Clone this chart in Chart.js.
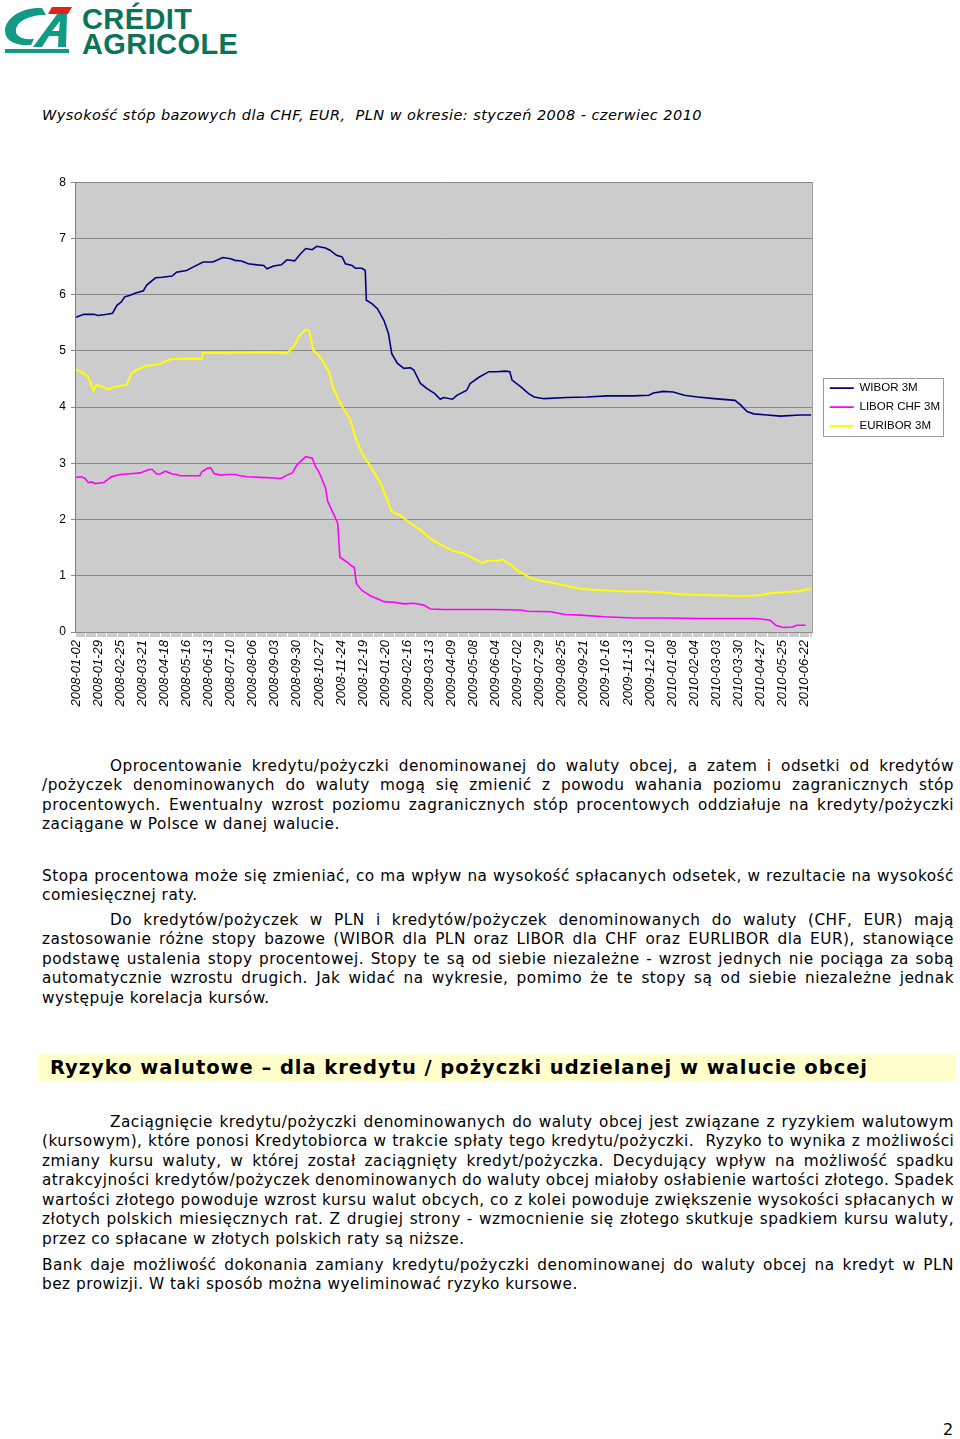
<!DOCTYPE html>
<html lang="pl">
<head>
<meta charset="utf-8">
<title>Wysokość stóp bazowych dla CHF, EUR, PLN</title>
<script src="https://cdn.jsdelivr.net/npm/chart.js@4.4.0/dist/chart.umd.min.js"></script>
<style>
  html, body { margin: 0; padding: 0; background: #fff; }
  body { width: 960px; height: 1439px; position: relative; overflow: hidden;
         font-family: "DejaVu Sans", Verdana, sans-serif; color: #000; }
  .abs { position: absolute; }
  .logo-txt { left: 82px; font-family: "Liberation Sans", Arial, sans-serif; font-weight: bold;
              color: #0b7456; font-size: 29px; line-height: 29px; letter-spacing: 0.4px; white-space: nowrap; }
  .title { left: 42px; top: 106px; font-style: italic; font-size: 14.5px; line-height: 19.5px; white-space: nowrap; }
  .para { left: 42px; width: 912px; font-size: 15.3px; line-height: 19.5px; letter-spacing: 0.5px; }
  .para div { white-space: nowrap; height: 19.5px; }
  .para span { white-space: nowrap; }
  .ind { padding-left: 68px; }
  #chartBox { position: absolute; left: 40px; top: 170px; width: 920px; height: 545px; }
  .head { left: 38px; top: 1054px; width: 918px; height: 28px; background: #ffffcc; }
  .head span { position: absolute; left: 12px; top: 0; font-weight: bold; font-size: 19.5px; line-height: 28px; white-space: nowrap; }
  .pagenr { left: 943px; top: 1420px; font-size: 16px; line-height: 20px; }
</style>
</head>
<body>

<svg class="abs" style="left:0;top:0" width="78" height="58" viewBox="0 0 78 58">
  <path d="M42 8 C22 7 5 18 5 31 C5 41 16 46 31 45 L34 39 C22 40 15 36 16 30 C17 21 29 15 46 15 Z" fill="#119a86"/>
  <path d="M33 47 L58 13 L67 13 L66 47 L58 47 L58.5 36 L49 36 L42 47 Z M52 31 L59 31 L60 21 Z" fill="#119a86" fill-rule="evenodd"/>
  <path d="M52 7 L72 7 L68 14 L48 14 Z" fill="#e2231a"/>
  <rect x="5" y="49" width="64" height="4" fill="#119a86"/>
</svg>
<div class="abs logo-txt" style="top:4.5px">CRÉDIT</div>
<div class="abs logo-txt" style="top:29.5px">AGRICOLE</div>

<div class="abs title"><span id="title">Wysokość stóp bazowych dla CHF, EUR,&nbsp; PLN w okresie: styczeń 2008 - czerwiec 2010</span></div>

<div id="chartBox"><canvas id="rates"></canvas></div>

<div class="abs para" style="top:756.5px">
  <div class="ind j"><span>Oprocentowanie kredytu/pożyczki denominowanej do waluty obcej, a zatem i odsetki od kredytów</span></div>
  <div class="j"><span>/pożyczek denominowanych do waluty mogą się zmienić z powodu wahania poziomu zagranicznych stóp</span></div>
  <div class="j"><span>procentowych. Ewentualny wzrost poziomu zagranicznych stóp procentowych oddziałuje na kredyty/pożyczki</span></div>
  <div><span>zaciągane w Polsce w danej walucie.</span></div>
</div>

<div class="abs para" style="top:866.5px">
  <div class="j"><span>Stopa procentowa może się zmieniać, co ma wpływ na wysokość spłacanych odsetek, w rezultacie na wysokość</span></div>
  <div><span>comiesięcznej raty.</span></div>
</div>

<div class="abs para" style="top:910.5px">
  <div class="ind j"><span>Do kredytów/pożyczek w PLN i kredytów/pożyczek denominowanych do waluty (CHF, EUR) mają</span></div>
  <div class="j"><span>zastosowanie różne stopy bazowe (WIBOR dla PLN oraz LIBOR dla CHF oraz EURLIBOR dla EUR), stanowiące</span></div>
  <div class="j"><span>podstawę ustalenia stopy procentowej. Stopy te są od siebie niezależne - wzrost jednych nie pociąga za sobą</span></div>
  <div class="j"><span>automatycznie wzrostu drugich. Jak widać na wykresie, pomimo że te stopy są od siebie niezależne jednak</span></div>
  <div><span>występuje korelacja kursów.</span></div>
</div>

<div class="abs head"><span id="heading">Ryzyko walutowe – dla kredytu / pożyczki udzielanej w walucie obcej</span></div>

<div class="abs para" style="top:1112.5px">
  <div class="ind j"><span>Zaciągnięcie kredytu/pożyczki denominowanych do waluty obcej jest związane z ryzykiem walutowym</span></div>
  <div class="j"><span>(kursowym), które ponosi Kredytobiorca w trakcie spłaty tego kredytu/pożyczki.&nbsp; Ryzyko to wynika z możliwości</span></div>
  <div class="j"><span>zmiany kursu waluty, w której został zaciągnięty kredyt/pożyczka. Decydujący wpływ na możliwość spadku</span></div>
  <div class="j"><span>atrakcyjności kredytów/pożyczek denominowanych do waluty obcej miałoby osłabienie wartości złotego. Spadek</span></div>
  <div class="j"><span>wartości złotego powoduje wzrost kursu walut obcych, co z kolei powoduje zwiększenie wysokości spłacanych w</span></div>
  <div class="j"><span>złotych polskich miesięcznych rat. Z drugiej strony - wzmocnienie się złotego skutkuje spadkiem kursu waluty,</span></div>
  <div><span>przez co spłacane w złotych polskich raty są niższe.</span></div>
</div>

<div class="abs para" style="top:1255.5px">
  <div class="j"><span>Bank daje możliwość dokonania zamiany kredytu/pożyczki denominowanej do waluty obcej na kredyt w PLN</span></div>
  <div><span>bez prowizji. W taki sposób można wyeliminować ryzyko kursowe.</span></div>
</div>

<div class="abs pagenr">2</div>

<script>
// tick labels, one every 20 trading days
const dateLabels = ['2008-01-02', '2008-01-29', '2008-02-25', '2008-03-21', '2008-04-18', '2008-05-16',
  '2008-06-13', '2008-07-10', '2008-08-06', '2008-09-03', '2008-09-30', '2008-10-27', '2008-11-24',
  '2008-12-19', '2009-01-20', '2009-02-16', '2009-03-13', '2009-04-09', '2009-05-08', '2009-06-04',
  '2009-07-02', '2009-07-29', '2009-08-25', '2009-09-21', '2009-10-16', '2009-11-13', '2009-12-10',
  '2010-01-08', '2010-02-04', '2010-03-03', '2010-03-30', '2010-04-27', '2010-05-25', '2010-06-22'];
const labelStep = 20;
const seriesNames = ['WIBOR 3M', 'LIBOR CHF 3M', 'EURIBOR 3M'];

// [trading day index, rate %]
const wibor = [[0,5.60],[7,5.65],[16,5.65],[20,5.63],[28,5.65],[33,5.67],[37,5.81],[41,5.87],[44,5.96],[49,5.99],
  [54,6.03],[61,6.07],[64,6.17],[72,6.30],[78,6.31],[87,6.33],[91,6.40],[100,6.43],[106,6.49],[115,6.58],
  [124,6.58],[133,6.66],[140,6.64],[144,6.61],[150,6.60],[156,6.55],[164,6.53],[170,6.52],[173,6.46],[179,6.51],
  [186,6.53],[191,6.62],[198,6.60],[203,6.72],[208,6.82],[214,6.80],[218,6.86],[226,6.83],[230,6.79],[236,6.70],
  [241,6.67],[244,6.55],[250,6.52],[253,6.47],[259,6.47],[262,6.43],[263,5.90],[268,5.84],[273,5.75],[279,5.54],
  [283,5.31],[286,4.95],[291,4.78],[297,4.69],[303,4.70],[306,4.66],[312,4.42],[318,4.33],[325,4.24],[330,4.14],
  [333,4.17],[341,4.14],[345,4.21],[354,4.30],[357,4.42],[365,4.53],[374,4.63],[381,4.63],[389,4.64],[393,4.63],
  [395,4.48],[403,4.36],[410,4.24],[415,4.18],[424,4.15],[445,4.17],[463,4.18],[481,4.20],[505,4.20],[519,4.21],
  [523,4.25],[532,4.28],[541,4.27],[551,4.21],[563,4.18],[578,4.15],[597,4.12],[602,4.04],[608,3.92],[614,3.88],
  [626,3.86],[638,3.84],[656,3.86],[666,3.86]];

const liborChf = [[0,2.75],[5,2.76],[8,2.73],[11,2.66],[14,2.67],[17,2.64],[25,2.66],[28,2.70],[32,2.76],[40,2.80],
  [46,2.81],[52,2.82],[58,2.83],[66,2.89],[69,2.89],[73,2.81],[76,2.81],[81,2.86],[87,2.81],[91,2.80],
  [94,2.78],[102,2.78],[112,2.78],[114,2.85],[119,2.91],[122,2.92],[125,2.82],[131,2.79],[137,2.80],[144,2.80],
  [149,2.78],[155,2.76],[167,2.75],[179,2.74],[186,2.73],[191,2.79],[196,2.83],[200,2.97],[208,3.12],[214,3.09],
  [217,2.94],[220,2.85],[226,2.56],[228,2.32],[233,2.11],[237,1.94],[239,1.33],[245,1.25],[250,1.17],[252,1.15],
  [254,0.86],[259,0.74],[267,0.64],[273,0.59],[279,0.54],[288,0.53],[297,0.50],[306,0.51],[315,0.48],[321,0.41],
  [333,0.40],[354,0.40],[378,0.40],[403,0.39],[409,0.37],[430,0.36],[443,0.31],[457,0.30],[472,0.28],[478,0.27],
  [505,0.25],[535,0.25],[566,0.24],[596,0.24],[617,0.24],[629,0.21],[634,0.12],[641,0.08],[649,0.09],[653,0.12],
  [661,0.12]];

const euribor = [[0,4.67],[7,4.60],[11,4.53],[16,4.29],[18,4.39],[23,4.37],[29,4.32],[35,4.36],[46,4.40],[50,4.60],
  [55,4.66],[63,4.73],[75,4.76],[85,4.85],[94,4.86],[114,4.86],[115,4.96],[134,4.96],[164,4.97],[179,4.97],
  [191,4.96],[197,5.07],[202,5.26],[208,5.38],[211,5.37],[215,5.01],[220,4.92],[224,4.80],[229,4.63],[233,4.33],
  [241,4.01],[248,3.80],[253,3.47],[259,3.18],[265,3.00],[276,2.64],[282,2.35],[286,2.14],[294,2.07],[303,1.93],
  [313,1.80],[321,1.66],[330,1.56],[342,1.44],[351,1.40],[359,1.32],[368,1.23],[374,1.27],[381,1.26],[386,1.29],
  [395,1.18],[400,1.09],[412,0.96],[421,0.91],[430,0.88],[442,0.83],[454,0.78],[466,0.75],[481,0.74],[499,0.72],
  [517,0.72],[535,0.70],[547,0.67],[566,0.66],[584,0.65],[602,0.64],[617,0.65],[629,0.69],[644,0.71],[656,0.73],
  [666,0.77]];

const lastDay = 666;

function toPoints(arr) {
    return arr.map(function (p) { return { x: p[0], y: p[1] }; });
}

// grey plot area + white legend frame
const frames = {
    id: 'frames',
    beforeDraw: function (chart) {
        const ctx = chart.ctx;
        const a = chart.chartArea;
        ctx.save();
        ctx.fillStyle = '#cccccc';
        ctx.fillRect(a.left, a.top, a.right - a.left, a.bottom - a.top);
        const hb = chart.legend.legendHitBoxes;
        if (hb && hb.length) {
            let l = hb[0].left - 7, r = 0;
            hb.forEach(function (b) { r = Math.max(r, b.left + b.width); });
            r += 3;
            const t = hb[0].top - 4;
            const last = hb[hb.length - 1];
            const b = last.top + last.height + 4;
            ctx.fillStyle = '#ffffff';
            ctx.fillRect(l, t, r - l, b - t);
            ctx.strokeStyle = '#9a9a9a';
            ctx.lineWidth = 1;
            ctx.strokeRect(Math.round(l) + 0.5, Math.round(t) + 0.5, Math.round(r - l), Math.round(b - t));
        }
        ctx.restore();
    }
};

const tickFont = { family: '"Liberation Sans", Arial, sans-serif', size: 12 };

let ctx = document.getElementById('rates').getContext('2d');
let chart = new Chart(ctx, {
    type: 'line',
    data: {
        datasets: [{
            label: seriesNames[0],
            data: toPoints(wibor),
            borderColor: '#000080',
            borderWidth: 1.6
        }, {
            label: seriesNames[1],
            data: toPoints(liborChf),
            borderColor: '#ff00ff',
            borderWidth: 1.6
        }, {
            label: seriesNames[2],
            data: toPoints(euribor),
            borderColor: '#ffff00',
            borderWidth: 2
        }]
    },
    options: {
        responsive: true,
        maintainAspectRatio: false,
        animation: false,
        events: [],
        elements: { point: { radius: 0 }, line: { tension: 0, fill: false } },
        layout: { padding: { top: 12, right: 10, left: 0, bottom: 0 } },
        scales: {
            x: {
                type: 'linear',
                min: -1,
                max: lastDay + 1,
                afterBuildTicks: function (scale) {
                    const t = [];
                    for (let i = 0; i <= lastDay; i++) t.push({ value: i });
                    scale.ticks = t;
                },
                afterFit: function (scale) { scale.height = 83; },
                ticks: {
                    autoSkip: false,
                    maxRotation: 90,
                    minRotation: 90,
                    padding: 3,
                    color: '#000',
                    font: { family: tickFont.family, size: 13, style: 'italic' },
                    callback: function (value) {
                        return value % labelStep === 0 ? dateLabels[value / labelStep] : '';
                    }
                },
                grid: { drawOnChartArea: false, tickLength: 5, color: 'rgba(110,110,110,0.35)' },
                border: { color: '#8c8c8c' }
            },
            y: {
                min: 0,
                max: 8,
                afterFit: function (scale) { scale.width = 35; },
                ticks: { stepSize: 1, color: '#000', padding: 5, font: tickFont },
                grid: { color: '#888888', tickLength: 4 },
                border: { color: '#808080' }
            },
            y2: {
                position: 'right',
                min: 0,
                max: 8,
                afterFit: function (scale) { scale.width = 10; },
                ticks: { display: false },
                grid: { drawOnChartArea: false, drawTicks: false },
                border: { color: '#a0a0a0' }
            }
        },
        plugins: {
            tooltip: { enabled: false },
            legend: {
                position: 'right',
                fullSize: false,
                align: 'center',
                labels: {
                    usePointStyle: true,
                    pointStyle: 'line',
                    pointStyleWidth: 24,
                    padding: 7.5,
                    color: '#000',
                    font: { family: tickFont.family, size: 11.5 }
                }
            }
        }
    },
    plugins: [frames]
});

// spread justified lines, stretch title and heading to the page widths
function fitText() {
    document.querySelectorAll('.para .j').forEach(function (line) {
        const span = line.querySelector('span');
        const target = 912 - (line.classList.contains('ind') ? 68 : 0);
        const gaps = span.textContent.trim().split(/\s+/).length - 1;
        const w = span.getBoundingClientRect().width;
        if (gaps > 0) span.style.wordSpacing = ((target - w) / gaps) + 'px';
    });
    [['title', 660], ['heading', 818]].forEach(function (item) {
        const el = document.getElementById(item[0]);
        const w = el.getBoundingClientRect().width;
        const n = el.textContent.length;
        el.style.letterSpacing = ((item[1] - w) / n) + 'px';
    });
}
fitText();
</script>
</body>
</html>
